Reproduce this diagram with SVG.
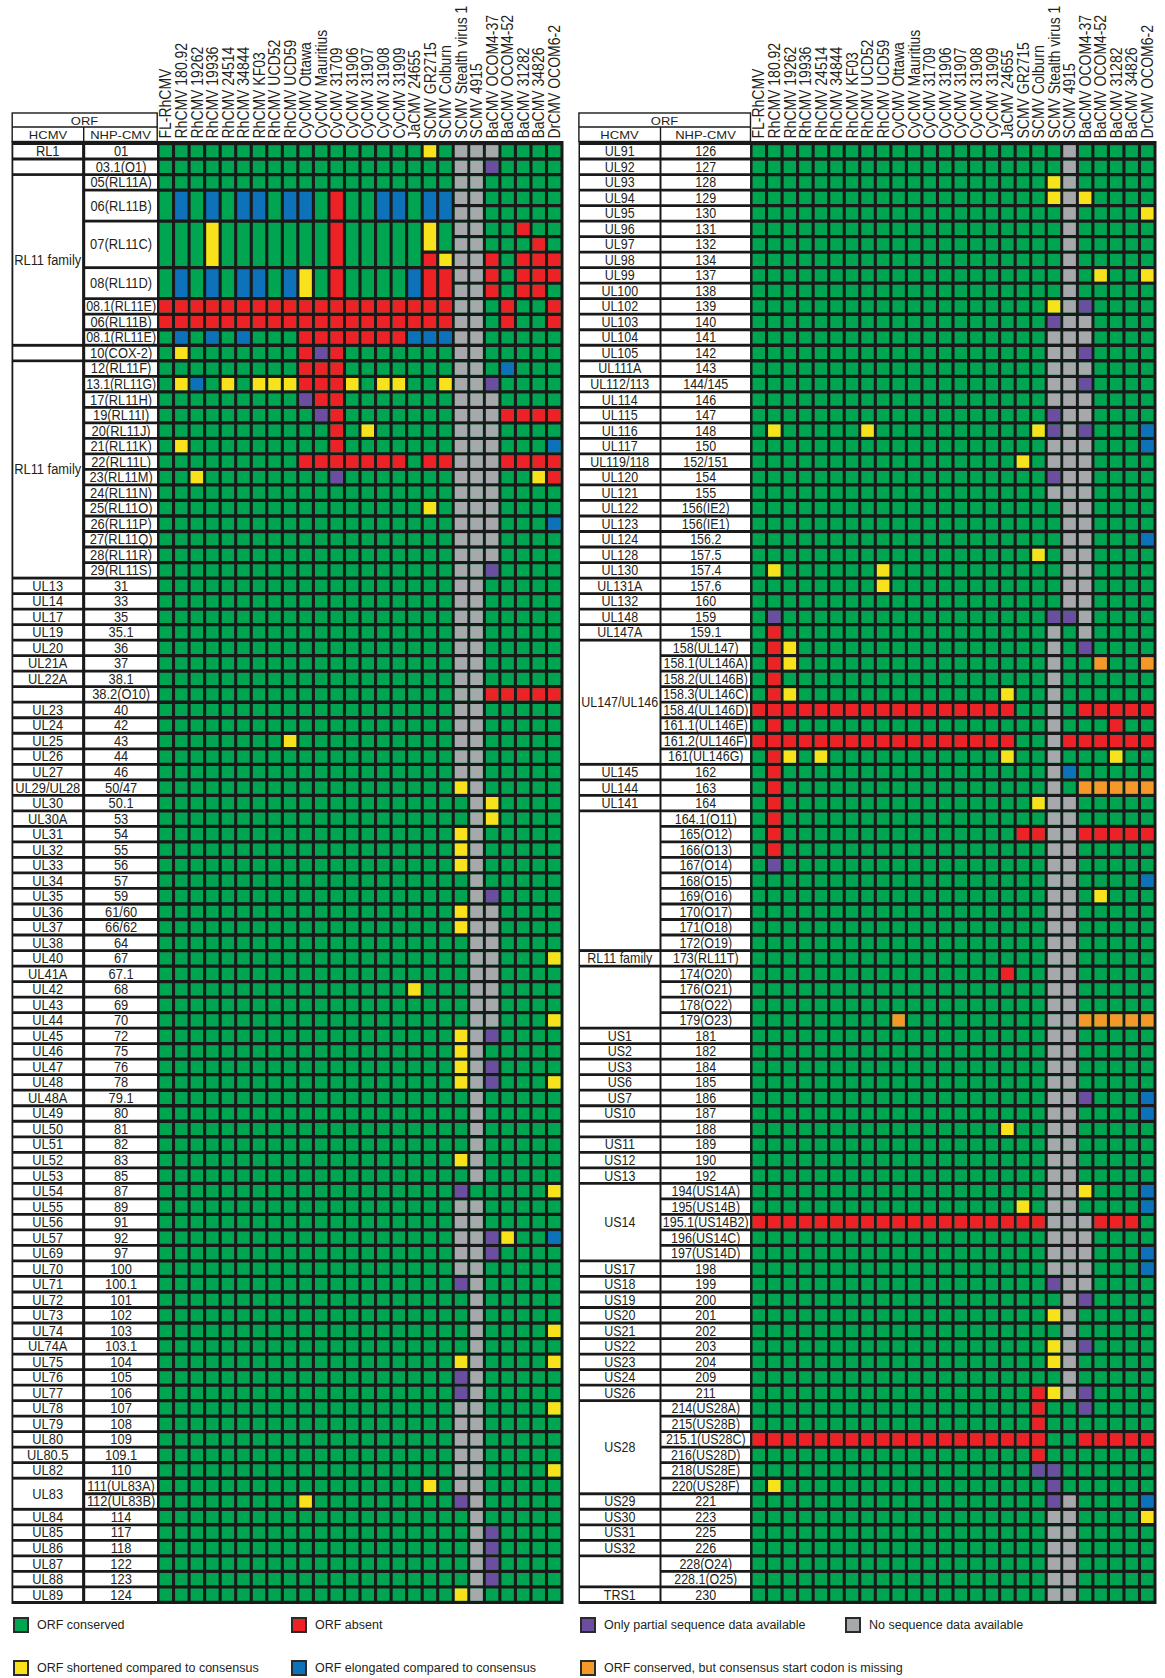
<svg xmlns="http://www.w3.org/2000/svg" width="1165" height="1678" viewBox="0 0 1165 1678">
<style>
text{font-family:"Liberation Sans",Arial,sans-serif;fill:#231f20}
.lb text{font-size:14px;text-anchor:middle}
.hd text{font-size:16px}
.oh{font-size:13px;text-anchor:middle}
.lg text{font-size:12.5px}
.v{fill:none;stroke-width:.8px;stroke-dasharray:.786px .214px}
.h{fill:none;stroke-width:.786px;stroke-dasharray:.8px .2px}
.t{fill:none;stroke-width:.8px}
.G{stroke:#00a551}.R{stroke:#ec2227}.Y{stroke:#f8e21c}.B{stroke:#0d72b9}.P{stroke:#6b4e9f}.S{stroke:#a6a8ab}.O{stroke:#f4982a}
.w{fill:none;stroke:#fff;stroke-dasharray:12.72px 2.8px}
.bk{fill:#1a1a1a}
.wb{fill:#fff}
</style>
<rect width="1165" height="1678" fill="#fff"/>

<!-- column headers -->
<g class="hd" id="hdrL" transform="translate(0 138.5) rotate(-90) scale(.875 1)">
<text y="171.5">FL-RhCMV</text><text y="187">RhCMV 180.92</text><text y="202.6">RhCMV 19262</text><text y="218.1">RhCMV 19936</text><text y="233.6">RhCMV 24514</text><text y="249.2">RhCMV 34844</text><text y="264.7">RhCMV KF03</text><text y="280.3">RhCMV UCD52</text><text y="295.8">RhCMV UCD59</text><text y="311.3">CyCMV Ottawa</text><text y="326.9">CyCMV Mauritius</text><text y="342.4">CyCMV 31709</text><text y="358">CyCMV 31906</text><text y="373.5">CyCMV 31907</text><text y="389">CyCMV 31908</text><text y="404.6">CyCMV 31909</text><text y="420.1">JaCMV 24655</text><text y="435.7">SCMV GR2715</text><text y="451.2">SCMV Colburn</text><text y="466.7">SCMV Stealth virus 1</text><text y="482.3">SCMV 4915</text><text y="497.8">BaCMV OCOM4-37</text><text y="513.4">BaCMV OCOM4-52</text><text y="528.9">BaCMV 31282</text><text y="544.4">BaCMV 34826</text><text y="560">DrCMV OCOM6-2</text>
</g>
<g class="hd" id="hdrR" transform="translate(593 138.5) rotate(-90) scale(.875 1)">
<text y="171.5">FL-RhCMV</text><text y="187">RhCMV 180.92</text><text y="202.6">RhCMV 19262</text><text y="218.1">RhCMV 19936</text><text y="233.6">RhCMV 24514</text><text y="249.2">RhCMV 34844</text><text y="264.7">RhCMV KF03</text><text y="280.3">RhCMV UCD52</text><text y="295.8">RhCMV UCD59</text><text y="311.3">CyCMV Ottawa</text><text y="326.9">CyCMV Mauritius</text><text y="342.4">CyCMV 31709</text><text y="358">CyCMV 31906</text><text y="373.5">CyCMV 31907</text><text y="389">CyCMV 31908</text><text y="404.6">CyCMV 31909</text><text y="420.1">JaCMV 24655</text><text y="435.7">SCMV GR2715</text><text y="451.2">SCMV Colburn</text><text y="466.7">SCMV Stealth virus 1</text><text y="482.3">SCMV 4915</text><text y="497.8">BaCMV OCOM4-37</text><text y="513.4">BaCMV OCOM4-52</text><text y="528.9">BaCMV 31282</text><text y="544.4">BaCMV 34826</text><text y="560">DrCMV OCOM6-2</text>
</g>

<!-- ORF header boxes -->
<g id="orfHeadL">
<rect x="12.2" y="113" width="145" height="28.5" fill="#fff" stroke="#1a1a1a" stroke-width="1.4"/>
<line x1="12.2" y1="127" x2="157.2" y2="127" stroke="#1a1a1a" stroke-width="1.4"/>
<line x1="83.7" y1="127" x2="83.7" y2="141" stroke="#1a1a1a" stroke-width="1.4"/>
<text class="oh" transform="translate(84.5 125) scale(1 .9)">ORF</text>
<text class="oh" transform="translate(48 138.6) scale(1 .8)">HCMV</text>
<text class="oh" transform="translate(120.5 138.6) scale(1 .8)">NHP-CMV</text>
</g>
<g id="orfHeadR">
<rect x="578.9" y="113" width="171.6" height="28.5" fill="#fff" stroke="#1a1a1a" stroke-width="1.4"/>
<line x1="578.9" y1="127" x2="750.5" y2="127" stroke="#1a1a1a" stroke-width="1.4"/>
<line x1="660.5" y1="127" x2="660.5" y2="141" stroke="#1a1a1a" stroke-width="1.4"/>
<text class="oh" transform="translate(664.5 125) scale(1 .9)">ORF</text>
<text class="oh" transform="translate(619.5 138.6) scale(1 .8)">HCMV</text>
<text class="oh" transform="translate(705.5 138.6) scale(1 .8)">NHP-CMV</text>
</g>

<!-- table backgrounds -->
<rect class="bk" x="11.5" y="141" width="552" height="1463"/>
<rect class="bk" x="578.5" y="141" width="578" height="1463"/>

<!-- label cells left -->
<g id="cellsL">
<path class="w" stroke-width="68.8" d="M47.7 144.9v28.24M47.7 346.66v12.72M47.7 579.46v897.36M47.7 1510.66v90.32"/>
<path class="w" stroke-width="71.8" d="M121.1 144.9v43.76M121.1 300.1v1300.88"/>
<rect class="wb" x="13.3" y="175.94" width="68.8" height="167.92"/>
<rect class="wb" x="13.3" y="362.18" width="68.8" height="214.48"/>
<rect class="wb" x="13.3" y="1479.62" width="68.8" height="28.24"/>
<rect class="wb" x="85.2" y="191.46" width="71.8" height="28.24"/>
<rect class="wb" x="85.2" y="222.5" width="71.8" height="43.76"/>
<rect class="wb" x="85.2" y="269.06" width="71.8" height="28.24"/>
</g>
<!-- label cells right -->
<g id="cellsR">
<path class="w" stroke-width="79.5" d="M619.75 144.9v493.84M619.75 765.7v43.76M619.75 951.94v12.72M619.75 1029.54v152.4M619.75 1262.34v136.88M619.75 1495.14v59.28M619.75 1588.26v12.72"/>
<path class="w" stroke-width="88.5" d="M705.75 144.9v1456.08"/>
<rect class="wb" x="580" y="641.54" width="79.5" height="121.36"/>
<rect class="wb" x="580" y="812.26" width="79.5" height="136.88"/>
<rect class="wb" x="580" y="967.46" width="79.5" height="59.28"/>
<rect class="wb" x="580" y="1184.74" width="79.5" height="74.8"/>
<rect class="wb" x="580" y="1402.02" width="79.5" height="90.32"/>
<rect class="wb" x="580" y="1557.22" width="79.5" height="28.24"/>
</g>

<!-- left grid -->
<g id="gridL" transform="translate(158 143.5) scale(15.54 15.52)">
<path class="v G" d="M.5 .107v93.786M1.5 .107v93.786M2.5 .107v93.786M3.5 .107v93.786M4.5 .107v93.786M5.5 .107v93.786M6.5 .107v93.786M7.5 .107v93.786M8.5 .107v93.786M9.5 .107v93.786M10.5 .107v93.786M11.5 .107v93.786M12.5 .107v93.786M13.5 .107v93.786M14.5 .107v93.786M15.5 .107v93.786M16.5 .107v93.786M17.5 .107v93.786M18.5 .107v93.786M19.5 .107v93.786M20.5 .107v93.786M21.5 .107v93.786M22.5 .107v93.786M23.5 .107v93.786M24.5 .107v93.786M25.5 .107v93.786"/>
<path class="v S" d="M19.5 .107v40.786M19.5 68.107v4.786M19.5 81.107v5.786M20.5 .107v66.786M20.5 68.107v25.786M21.5 .107v.786M21.5 16.107v10.786M21.5 49.107v7.786"/>
<path class="v Y" d="M17.5 .107v.786M1.5 13.107v.786M1.5 15.107v.786M4.5 15.107v.786M6.5 15.107v.786M7.5 15.107v.786M8.5 15.107v.786M12.5 15.107v.786M14.5 15.107v.786M15.5 15.107v.786M18.5 15.107v.786M13.5 18.107v.786M1.5 19.107v.786M2.5 21.107v.786M24.5 21.107v.786M17.5 23.107v.786M8.5 38.107v.786M19.5 41.107v.786M21.5 42.107v1.786M19.5 44.107v2.786M19.5 49.107v1.786M25.5 52.107v.786M16.5 54.107v.786M25.5 56.107v.786M19.5 57.107v3.786M25.5 60.107v.786M19.5 65.107v.786M25.5 67.107v.786M22.5 70.107v.786M25.5 76.107v.786M19.5 78.107v.786M25.5 78.107v.786M25.5 81.107v.786M25.5 85.107v.786M17.5 86.107v.786M9.5 87.107v.786M19.5 93.107v.786"/>
<path class="v P" d="M21.5 1.107v.786M10.5 13.107v.786M21.5 15.107v.786M9.5 16.107v.786M10.5 17.107v.786M11.5 21.107v.786M21.5 27.107v.786M21.5 48.107v.786M21.5 57.107v.786M21.5 59.107v1.786M19.5 67.107v.786M21.5 70.107v1.786M19.5 73.107v.786M19.5 79.107v1.786M19.5 87.107v.786M21.5 89.107v3.786"/>
<path class="v B" d="M1.5 12.107v.786M3.5 12.107v.786M5.5 12.107v.786M16.5 12.107v.786M17.5 12.107v.786M18.5 12.107v.786M22.5 14.107v.786M2.5 15.107v.786M25.5 19.107v.786M25.5 24.107v.786M25.5 70.107v.786"/>
<path class="v R" d="M23.5 5.107v.786M24.5 6.107v3.786M21.5 7.107v2.786M23.5 7.107v2.786M25.5 7.107v1.786M22.5 10.107v1.786M25.5 10.107v1.786M9.5 13.107v2.786M10.5 14.107v2.786M11.5 13.107v7.786M25.5 21.107v.786"/>
<path class="h R" d="M.1 10.5h18.8M.1 11.5h18.8M9.1 12.5h6.8M9.1 20.5h6.8M17.1 20.5h1.8M22.1 17.5h3.8M22.1 20.5h3.8M21.1 35.5h4.8"/>
<rect class="bk" x="0" y="3" width="19" height="7"/>
<path class="t G" d="M.5 3.107v1.786M2.5 3.107v1.786M4.5 3.107v1.786M7.5 3.107v1.786M10.5 3.107v1.786M12.5 3.107v1.786M13.5 3.107v1.786M16.5 3.107v1.786M.5 5.107v2.786M1.5 5.107v2.786M2.5 5.107v2.786M4.5 5.107v2.786M5.5 5.107v2.786M6.5 5.107v2.786M7.5 5.107v2.786M8.5 5.107v2.786M9.5 5.107v2.786M10.5 5.107v2.786M12.5 5.107v2.786M13.5 5.107v2.786M14.5 5.107v2.786M15.5 5.107v2.786M16.5 5.107v2.786M18.5 5.107v1.786M.5 8.107v1.786M2.5 8.107v1.786M4.5 8.107v1.786M7.5 8.107v1.786M10.5 8.107v1.786M12.5 8.107v1.786M13.5 8.107v1.786M14.5 8.107v1.786M15.5 8.107v1.786"/>
<path class="t B" d="M1.5 3.107v1.786M3.5 3.107v1.786M5.5 3.107v1.786M6.5 3.107v1.786M8.5 3.107v1.786M9.5 3.107v1.786M14.5 3.107v1.786M15.5 3.107v1.786M17.5 3.107v1.786M18.5 3.107v1.786M1.5 8.107v1.786M3.5 8.107v1.786M5.5 8.107v1.786M6.5 8.107v1.786M8.5 8.107v1.786M16.5 8.107v1.786"/>
<path class="t Y" d="M3.5 5.107v2.786M17.5 5.107v1.786M18.5 7.107v.786M9.5 8.107v1.786"/>
<path class="t R" d="M11.5 3.107v1.786M11.5 5.107v2.786M17.5 7.107v.786M11.5 8.107v1.786M17.5 8.107v1.786M18.5 8.107v1.786"/>
</g>

<!-- right grid -->
<g id="gridR" transform="translate(751 143.5) scale(15.54 15.52)">
<path class="v G" d="M.5 .107v93.786M1.5 .107v93.786M2.5 .107v93.786M3.5 .107v93.786M4.5 .107v93.786M5.5 .107v93.786M6.5 .107v93.786M7.5 .107v93.786M8.5 .107v93.786M9.5 .107v93.786M10.5 .107v93.786M11.5 .107v93.786M12.5 .107v93.786M13.5 .107v93.786M14.5 .107v93.786M15.5 .107v93.786M16.5 .107v93.786M17.5 .107v93.786M18.5 .107v93.786M19.5 .107v93.786M20.5 .107v93.786M21.5 .107v93.786M22.5 .107v93.786M23.5 .107v93.786M24.5 .107v93.786M25.5 .107v93.786"/>
<path class="v S" d="M19.5 12.107v4.786M19.5 19.107v1.786M19.5 22.107v.786M19.5 31.107v41.786M19.5 88.107v5.786M20.5 .107v29.786M20.5 42.107v38.786M20.5 87.107v6.786M21.5 11.107v1.786M21.5 14.107v.786M21.5 16.107v1.786M21.5 19.107v12.786M21.5 69.107v4.786"/>
<path class="v Y" d="M19.5 2.107v1.786M21.5 3.107v.786M25.5 4.107v.786M22.5 8.107v.786M25.5 8.107v.786M19.5 10.107v.786M1.5 18.107v.786M7.5 18.107v.786M18.5 18.107v.786M17.5 20.107v.786M18.5 26.107v.786M1.5 27.107v.786M8.5 27.107v1.786M2.5 32.107v1.786M2.5 35.107v.786M16.5 35.107v.786M2.5 39.107v.786M4.5 39.107v.786M16.5 39.107v.786M23.5 39.107v.786M18.5 42.107v.786M22.5 48.107v.786M16.5 63.107v.786M21.5 67.107v.786M17.5 68.107v.786M19.5 75.107v.786M19.5 77.107v1.786M19.5 80.107v.786M1.5 86.107v.786M25.5 88.107v.786"/>
<path class="v P" d="M21.5 10.107v.786M19.5 11.107v.786M21.5 13.107v.786M21.5 15.107v.786M19.5 17.107v1.786M21.5 18.107v.786M19.5 21.107v.786M1.5 30.107v.786M19.5 30.107v.786M20.5 30.107v.786M21.5 32.107v.786M1.5 46.107v.786M21.5 61.107v.786M19.5 73.107v.786M21.5 74.107v.786M21.5 77.107v.786M21.5 80.107v1.786M18.5 85.107v.786M19.5 85.107v2.786"/>
<path class="v B" d="M25.5 18.107v1.786M25.5 25.107v.786M20.5 40.107v.786M25.5 47.107v.786M25.5 61.107v1.786M25.5 67.107v1.786M25.5 71.107v1.786M25.5 87.107v.786"/>
<path class="v O" d="M22.5 33.107v.786M25.5 33.107v.786M9.5 56.107v.786"/>
<path class="h O" d="M21.1 41.5h4.8M21.1 56.5h4.8"/>
<path class="v R" d="M1.5 31.107v14.786M23.5 37.107v.786M16.5 53.107v.786M18.5 80.107v4.786"/>
<path class="h R" d="M.1 36.5h16.8M21.1 36.5h4.8M.1 38.5h16.8M20.1 38.5h5.8M17.1 44.5h1.8M21.1 44.5h4.8M.1 69.5h18.8M22.1 69.5h2.8M.1 83.5h18.8M21.1 83.5h4.8"/>
</g>

<!-- left labels -->
<g class="lb" id="hcmvL" transform="matrix(.92 0 0 1 47.7 0)">
<text y="156.3">RL1</text><text y="264.9">RL11 family</text><text y="474.4">RL11 family</text>
<text y="590.8">UL13</text><text y="606.3">UL14</text><text y="621.9">UL17</text><text y="637.4">UL19</text><text y="652.9">UL20</text><text y="668.4">UL21A</text><text y="683.9">UL22A</text>
<text y="715">UL23</text><text y="730.5">UL24</text><text y="746">UL25</text><text y="761.5">UL26</text><text y="777.1">UL27</text><text y="792.6">UL29/UL28</text><text y="808.1">UL30</text><text y="823.6">UL30A</text><text y="839.1">UL31</text><text y="854.7">UL32</text><text y="870.2">UL33</text><text y="885.7">UL34</text><text y="901.2">UL35</text><text y="916.7">UL36</text><text y="932.3">UL37</text><text y="947.8">UL38</text><text y="963.3">UL40</text><text y="978.8">UL41A</text><text y="994.3">UL42</text><text y="1009.9">UL43</text><text y="1025.4">UL44</text><text y="1040.9">UL45</text><text y="1056.4">UL46</text><text y="1071.9">UL47</text><text y="1087.5">UL48</text><text y="1103">UL48A</text><text y="1118.5">UL49</text><text y="1134">UL50</text><text y="1149.5">UL51</text><text y="1165.1">UL52</text><text y="1180.6">UL53</text><text y="1196.1">UL54</text><text y="1211.6">UL55</text><text y="1227.1">UL56</text><text y="1242.7">UL57</text><text y="1258.2">UL69</text><text y="1273.7">UL70</text><text y="1289.2">UL71</text><text y="1304.7">UL72</text><text y="1320.3">UL73</text><text y="1335.8">UL74</text><text y="1351.3">UL74A</text><text y="1366.8">UL75</text><text y="1382.3">UL76</text><text y="1397.9">UL77</text><text y="1413.4">UL78</text><text y="1428.9">UL79</text><text y="1444.4">UL80</text><text y="1459.9">UL80.5</text><text y="1475.5">UL82</text><text y="1498.7">UL83</text><text y="1522">UL84</text><text y="1537.5">UL85</text><text y="1553.1">UL86</text><text y="1568.6">UL87</text><text y="1584.1">UL88</text><text y="1599.6">UL89</text>
</g>
<g class="lb" id="nhpL" transform="matrix(.92 0 0 1 121.1 0)">
<text y="156.3">01</text><text y="171.8">03.1(O1)</text><text y="187.3">05(RL11A)</text><text y="210.6">06(RL11B)</text><text y="249.4">07(RL11C)</text><text y="288.2">08(RL11D)</text><text y="311.5" textLength="76" lengthAdjust="spacingAndGlyphs">08.1(RL11E)</text><text y="327">06(RL11B)</text><text y="342.5" textLength="76" lengthAdjust="spacingAndGlyphs">08.1(RL11E)</text><text y="358">10(COX-2)</text><text y="373.5">12(RL11F)</text><text y="389.1" textLength="76" lengthAdjust="spacingAndGlyphs">13.1(RL11G)</text><text y="404.6">17(RL11H)</text><text y="420.1">19(RL11I)</text><text y="435.6">20(RL11J)</text><text y="451.1">21(RL11K)</text><text y="466.7">22(RL11L)</text><text y="482.2">23(RL11M)</text><text y="497.7">24(RL11N)</text><text y="513.2">25(RL11O)</text><text y="528.7">26(RL11P)</text><text y="544.3">27(RL11Q)</text><text y="559.8">28(RL11R)</text><text y="575.3">29(RL11S)</text>
<text y="590.8">31</text><text y="606.3">33</text><text y="621.9">35</text><text y="637.4">35.1</text><text y="652.9">36</text><text y="668.4">37</text><text y="683.9">38.1</text><text y="699.5">38.2(O10)</text><text y="715">40</text><text y="730.5">42</text><text y="746">43</text><text y="761.5">44</text><text y="777.1">46</text><text y="792.6">50/47</text><text y="808.1">50.1</text><text y="823.6">53</text><text y="839.1">54</text><text y="854.7">55</text><text y="870.2">56</text><text y="885.7">57</text><text y="901.2">59</text><text y="916.7">61/60</text><text y="932.3">66/62</text><text y="947.8">64</text><text y="963.3">67</text><text y="978.8">67.1</text><text y="994.3">68</text><text y="1009.9">69</text><text y="1025.4">70</text><text y="1040.9">72</text><text y="1056.4">75</text><text y="1071.9">76</text><text y="1087.5">78</text><text y="1103">79.1</text><text y="1118.5">80</text><text y="1134">81</text><text y="1149.5">82</text><text y="1165.1">83</text><text y="1180.6">85</text><text y="1196.1">87</text><text y="1211.6">89</text><text y="1227.1">91</text><text y="1242.7">92</text><text y="1258.2">97</text><text y="1273.7">100</text><text y="1289.2">100.1</text><text y="1304.7">101</text><text y="1320.3">102</text><text y="1335.8">103</text><text y="1351.3">103.1</text><text y="1366.8">104</text><text y="1382.3">105</text><text y="1397.9">106</text><text y="1413.4">107</text><text y="1428.9">108</text><text y="1444.4">109</text><text y="1459.9">109.1</text><text y="1475.5">110</text><text y="1491">111(UL83A)</text><text y="1506.5">112(UL83B)</text><text y="1522">114</text><text y="1537.5">117</text><text y="1553.1">118</text><text y="1568.6">122</text><text y="1584.1">123</text><text y="1599.6">124</text>
</g>

<!-- right labels -->
<g class="lb" id="hcmvR" transform="matrix(.89 0 0 1 619.75 0)">
<text y="156.3">UL91</text><text y="171.8">UL92</text><text y="187.3">UL93</text><text y="202.8">UL94</text><text y="218.3">UL95</text><text y="233.9">UL96</text><text y="249.4">UL97</text><text y="264.9">UL98</text><text y="280.4">UL99</text><text y="296">UL100</text><text y="311.5">UL102</text><text y="327">UL103</text><text y="342.5">UL104</text><text y="358">UL105</text><text y="373.5">UL111A</text><text y="389.1">UL112/113</text><text y="404.6">UL114</text><text y="420.1">UL115</text><text y="435.6">UL116</text><text y="451.1">UL117</text><text y="466.7">UL119/118</text><text y="482.2">UL120</text><text y="497.7">UL121</text><text y="513.2">UL122</text><text y="528.7">UL123</text><text y="544.3">UL124</text><text y="559.8">UL128</text><text y="575.3">UL130</text><text y="590.8">UL131A</text><text y="606.3">UL132</text><text y="621.9">UL148</text><text y="637.4">UL147A</text><text y="707.2">UL147/UL146</text><text y="777.1">UL145</text><text y="792.6">UL144</text><text y="808.1">UL141</text><text y="963.3">RL11 family</text><text y="1040.9">US1</text><text y="1056.4">US2</text><text y="1071.9">US3</text><text y="1087.5">US6</text><text y="1103">US7</text><text y="1118.5">US10</text><text y="1149.5">US11</text><text y="1165.1">US12</text><text y="1180.6">US13</text><text y="1227.1">US14</text><text y="1273.7">US17</text><text y="1289.2">US18</text><text y="1304.7">US19</text><text y="1320.3">US20</text><text y="1335.8">US21</text><text y="1351.3">US22</text><text y="1366.8">US23</text><text y="1382.3">US24</text><text y="1397.9">US26</text><text y="1452.2">US28</text><text y="1506.5">US29</text><text y="1522">US30</text><text y="1537.5">US31</text><text y="1553.1">US32</text><text y="1599.6">TRS1</text>
</g>
<g class="lb" id="nhpR" transform="matrix(.89 0 0 1 705.75 0)">
<text y="156.3">126</text><text y="171.8">127</text><text y="187.3">128</text><text y="202.8">129</text><text y="218.3">130</text><text y="233.9">131</text><text y="249.4">132</text><text y="264.9">134</text><text y="280.4">137</text><text y="296">138</text><text y="311.5">139</text><text y="327">140</text><text y="342.5">141</text><text y="358">142</text><text y="373.5">143</text><text y="389.1">144/145</text><text y="404.6">146</text><text y="420.1">147</text><text y="435.6">148</text><text y="451.1">150</text><text y="466.7">152/151</text><text y="482.2">154</text><text y="497.7">155</text><text y="513.2">156(IE2)</text><text y="528.7">156(IE1)</text><text y="544.3">156.2</text><text y="559.8">157.5</text><text y="575.3">157.4</text><text y="590.8">157.6</text><text y="606.3">160</text><text y="621.9">159</text><text y="637.4">159.1</text><text y="652.9">158(UL147)</text><text y="668.4">158.1(UL146A)</text><text y="683.9">158.2(UL146B)</text><text y="699.5">158.3(UL146C)</text><text y="715">158.4(UL146D)</text><text y="730.5">161.1(UL146E)</text><text y="746">161.2(UL146F)</text><text y="761.5">161(UL146G)</text><text y="777.1">162</text><text y="792.6">163</text><text y="808.1">164</text><text y="823.6">164.1(O11)</text><text y="839.1">165(O12)</text><text y="854.7">166(O13)</text><text y="870.2">167(O14)</text><text y="885.7">168(O15)</text><text y="901.2">169(O16)</text><text y="916.7">170(O17)</text><text y="932.3">171(O18)</text><text y="947.8">172(O19)</text><text y="963.3">173(RL11T)</text><text y="978.8">174(O20)</text><text y="994.3">176(O21)</text><text y="1009.9">178(O22)</text><text y="1025.4">179(O23)</text><text y="1040.9">181</text><text y="1056.4">182</text><text y="1071.9">184</text><text y="1087.5">185</text><text y="1103">186</text><text y="1118.5">187</text><text y="1134">188</text><text y="1149.5">189</text><text y="1165.1">190</text><text y="1180.6">192</text><text y="1196.1">194(US14A)</text><text y="1211.6">195(US14B)</text><text y="1227.1">195.1(US14B2)</text><text y="1242.7">196(US14C)</text><text y="1258.2">197(US14D)</text><text y="1273.7">198</text><text y="1289.2">199</text><text y="1304.7">200</text><text y="1320.3">201</text><text y="1335.8">202</text><text y="1351.3">203</text><text y="1366.8">204</text><text y="1382.3">209</text><text y="1397.9">211</text><text y="1413.4">214(US28A)</text><text y="1428.9">215(US28B)</text><text y="1444.4">215.1(US28C)</text><text y="1459.9">216(US28D)</text><text y="1475.5">218(US28E)</text><text y="1491">220(US28F)</text><text y="1506.5">221</text><text y="1522">223</text><text y="1537.5">225</text><text y="1553.1">226</text><text y="1568.6">228(O24)</text><text y="1584.1">228.1(O25)</text><text y="1599.6">230</text>
</g>

<!-- legend -->
<g class="lg" id="legend" stroke-width="2">
<rect x="14" y="1618" width="14" height="14" fill="#00a551" stroke="#2a2a2a"/><text x="37" y="1629">ORF conserved</text>
<rect x="292" y="1618" width="14" height="14" fill="#ec2227" stroke="#2a2a2a"/><text x="315" y="1629">ORF absent</text>
<rect x="581" y="1618" width="14" height="14" fill="#6b4e9f" stroke="#2a2a2a"/><text x="604" y="1629">Only partial sequence data available</text>
<rect x="846" y="1618" width="14" height="14" fill="#a6a8ab" stroke="#2a2a2a"/><text x="869" y="1629">No sequence data available</text>
<rect x="14" y="1661" width="14" height="14" fill="#f8e21c" stroke="#2a2a2a"/><text x="37" y="1672">ORF shortened compared to consensus</text>
<rect x="292" y="1661" width="14" height="14" fill="#0d72b9" stroke="#2a2a2a"/><text x="315" y="1672">ORF elongated compared to consensus</text>
<rect x="581" y="1661" width="14" height="14" fill="#f4982a" stroke="#2a2a2a"/><text x="604" y="1672">ORF conserved, but consensus start codon is missing</text>
</g>
</svg>
